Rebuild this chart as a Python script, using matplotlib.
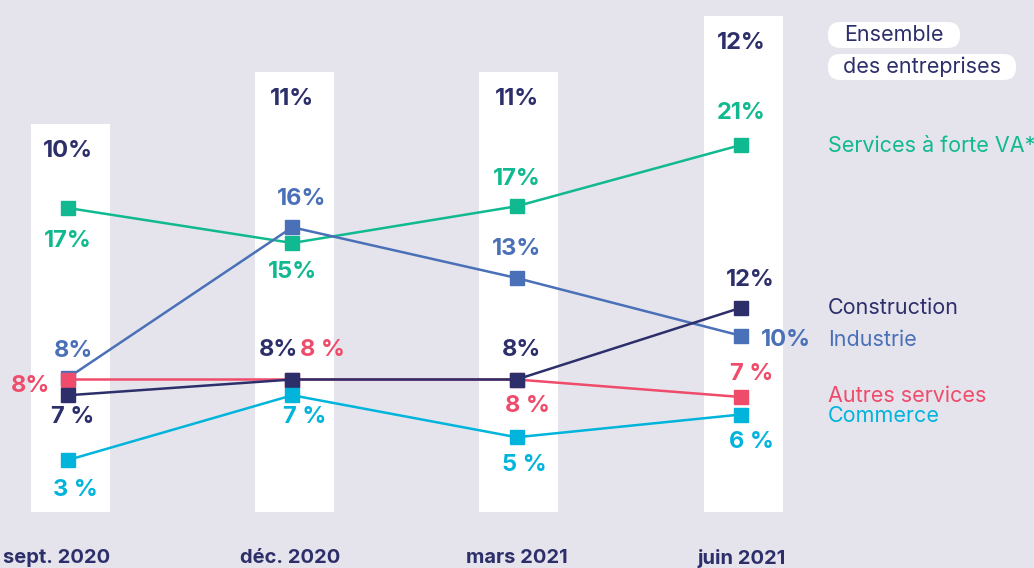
import matplotlib.pyplot as plt
from matplotlib.patches import FancyBboxPatch

# --- data ---
periods = ["sept. 2020", "déc. 2020", "mars 2021", "juin 2021"]
ensemble = [9.7, 11.0, 11.0, 12.4]
ensemble_labels = ["10%", "11%", "11%", "12%"]

services_va = [17.4, 15.4, 17.5, 21.0]
services_va_labels = ["17%", "15%", "17%", "21%"]
industrie = [7.7, 16.3, 13.4, 10.1]
industrie_labels = ["8%", "16%", "13%", "10%"]
construction = [6.7, 7.6, 7.6, 11.7]
construction_labels = ["7 %", "8%", "8%", "12%"]
autres_services = [7.6, 7.6, 7.6, 6.6]
autres_services_labels = ["8%", "8 %", "8 %", "7 %"]
commerce = [3.0, 6.7, 4.3, 5.6]
commerce_labels = ["3 %", "7 %", "5 %", "6 %"]

BG = "#e5e4ec"
NAVY = "#2d2f6b"
FONT = ["Inter", "DejaVu Sans"]

# (values, labels, colour, legend name, label offsets in px, legend y in px)
series = [
    (services_va, services_va_labels, "#10b98f", "Services à forte VA*",
     [(0, -33), (0, -29), (0, 27), (0, 32)], 146),
    (industrie, industrie_labels, "#4a70b8", "Industrie",
     [(5, 27), (9, 28), (0, 29), (45, -4)], 340),
    (autres_services, autres_services_labels, "#ef4b6b", "Autres services",
     [(-38, -7), (30, 30), (11, -27), (11, 23)], 396),
    (construction, construction_labels, NAVY, "Construction",
     [(5, -22), (-14, 29), (5, 30), (9, 28)], 308),
    (commerce, commerce_labels, "#00b4dc", "Commerce",
     [(7, -30), (12, -22), (8, -28), (11, -27)], 416),
]

W, H = 1034, 568
fig = plt.figure(figsize=(W / 100, H / 100), dpi=100)
fig.patch.set_facecolor(BG)

# bars (Ensemble) on their own scale
axb = fig.add_axes([0, 0, 1, 1])
axb.set_facecolor(BG)
x = list(range(len(periods)))
axb.bar([xi + 0.01 for xi in x], ensemble, width=0.352, color="white", zorder=1)
axb.set_xlim(-68 / 224.3, (W - 68) / 224.3)
axb.set_ylim(-56 / 40, 512 / 40)
axb.axis("off")

for xi, v, lab in zip(x, ensemble, ensemble_labels):
    axb.annotate(lab, (xi, v), xytext=(0, -27 * 0.72), textcoords="offset points",
                 ha="center", va="center", fontsize=17, fontweight="bold",
                 color=NAVY, family=FONT)

# lines on the main scale
ax = fig.add_axes([0, 0, 1, 1])
ax.patch.set_alpha(0)
ax.set_xlim(axb.get_xlim())
ax.set_ylim((512.5 - H) / 17.5, 512.5 / 17.5)
ax.axis("off")

for vals, labs, col, name, offs, ly in series:
    ax.plot(x, vals, color=col, lw=1.8, marker="s", ms=10, mec=col, zorder=3)
    for xi, v, lab, (dx, dy) in zip(x, vals, labs, offs):
        ax.annotate(lab, (xi, v), xytext=(dx * 0.72, dy * 0.72), textcoords="offset points",
                    ha="center", va="center", fontsize=17, fontweight="bold",
                    color=col, family=FONT)
    fig.text(828 / W, 1 - ly / H, name, ha="left", va="center", fontsize=15.5,
             color=col, family=FONT)

# period labels
for xi, p, dx in zip(x, periods, [-11, -2, 0, 1]):
    ax.annotate(p, (xi, 0), xycoords=("data", "axes fraction"),
                xytext=(dx * 0.72, 10 * 0.72), textcoords="offset points",
                ha="center", va="center", fontsize=14.5, fontweight="bold",
                color=NAVY, family=FONT)

# "Ensemble des entreprises" tag
for txt, y0, w in [("Ensemble", 22, 132), ("des entreprises", 54, 188)]:
    fig.patches.append(FancyBboxPatch((828 / W, 1 - (y0 + 26) / H), w / W, 26 / H,
                                      boxstyle="round,pad=0,rounding_size=0.012",
                                      transform=fig.transFigure, fc="white", ec="none",
                                      mutation_aspect=W / H))
    fig.text((828 + w / 2) / W, 1 - (y0 + 13) / H, txt, ha="center", va="center",
             fontsize=15.5, color=NAVY, family=FONT)

fig.savefig("out.png", dpi=100, facecolor=BG)
